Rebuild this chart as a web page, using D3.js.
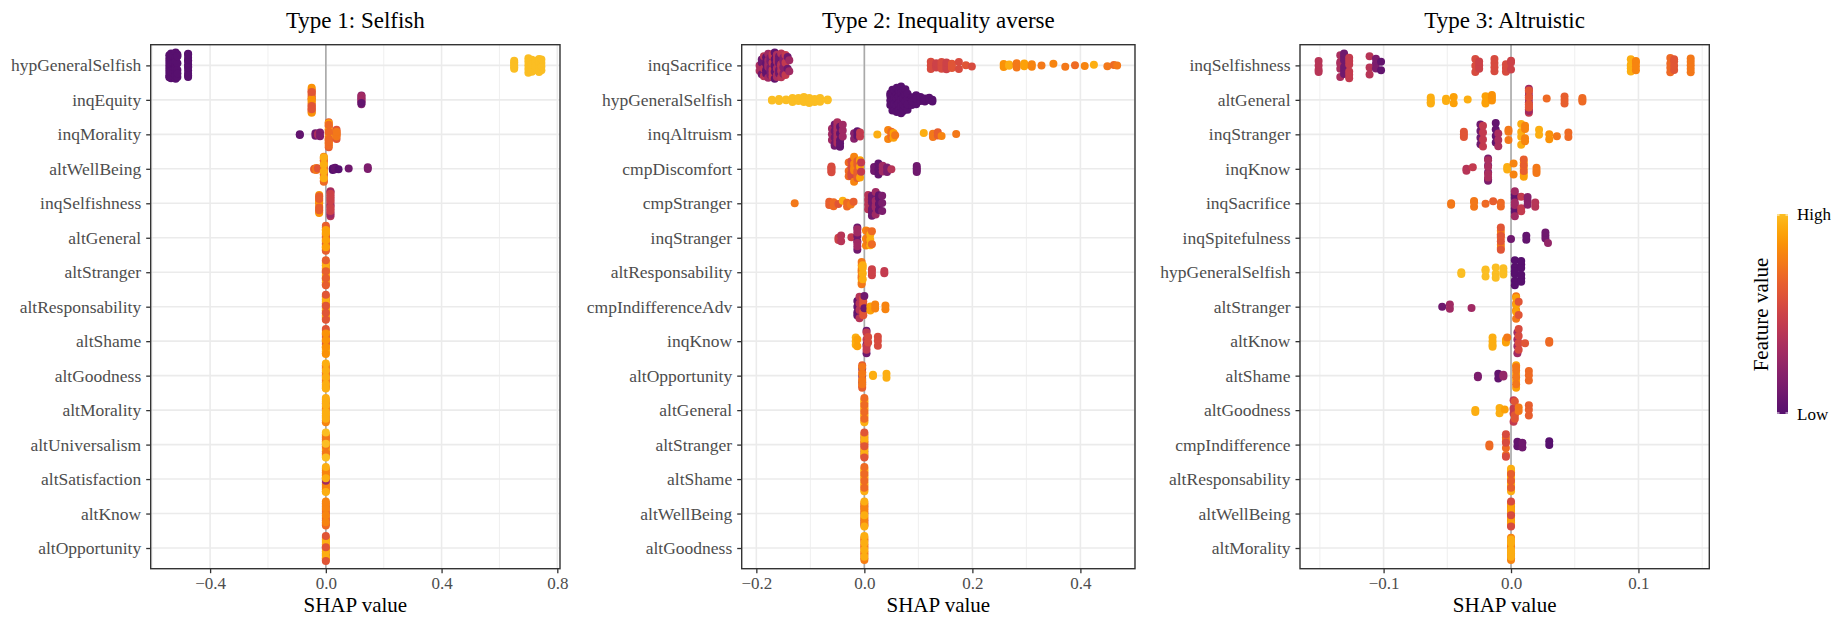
<!DOCTYPE html>
<html>
<head>
<meta charset="utf-8">
<script src="https://cdn.jsdelivr.net/npm/d3@7"></script>
<style>
	body { margin: 0; background: #fff; }
	svg { display: block; font-family: 'Liberation Serif', 'DejaVu Serif', serif; }
</style>
</head>
<body>
<svg id="chart" width="1843" height="618"></svg>
<script>
// Each cluster: [ SHAP value, scaled feature value (0 = low, 1 = high), number of observations ]
const panelTitles = [ 'Type 1: Selfish', 'Type 2: Inequality averse', 'Type 3: Altruistic' ];

const type1Features = [
	'hypGeneralSelfish', 'inqEquity', 'inqMorality', 'altWellBeing', 'inqSelfishness',
	'altGeneral', 'altStranger', 'altResponsability', 'altShame', 'altGoodness',
	'altMorality', 'altUniversalism', 'altSatisfaction', 'altKnow', 'altOpportunity',
];
const type1Shap = [
	[ [ -0.541, 0, 8 ], [ -0.535, 0, 10 ], [ -0.527, 0, 10 ], [ -0.519, 0, 10 ], [ -0.513, 0, 6 ], [ -0.476, 0, 12 ],
		[ 0.651, 1, 6 ], [ 0.700, 1, 5 ], [ 0.712, 1, 6 ], [ 0.725, 1, 5 ], [ 0.737, 1, 5 ], [ 0.745, 1, 4 ] ],
	[ [ -0.049, 0.75, 7 ], [ -0.049, 0.65, 6 ], [ -0.049, 0.85, 4 ], [ -0.049, 0.6, 3 ], [ 0.123, 0.15, 4 ], [ 0.123, 0.3, 3 ], [ 0.123, 0.05, 1 ] ],
	[ [ -0.090, 0.05, 2 ], [ -0.036, 0.1, 2 ], [ -0.027, 0.35, 2 ], [ -0.020, 0.15, 2 ], [ 0.010, 0.75, 6 ], [ 0.010, 0.65, 5 ],
		[ 0.010, 0.9, 4 ], [ 0.010, 0.7, 5 ], [ 0.037, 0.6, 4 ], [ 0.037, 0.75, 3 ] ],
	[ [ -0.040, 0.65, 2 ], [ -0.033, 0.75, 2 ], [ -0.028, 0.6, 1 ], [ -0.007, 0.6, 5 ], [ -0.007, 0.8, 5 ], [ -0.007, 0.7, 4 ],
		[ -0.007, 0.95, 4 ], [ 0.024, 0, 2 ], [ 0.032, 0.05, 2 ], [ 0.044, 0, 1 ], [ 0.079, 0.1, 1 ], [ 0.145, 0.15, 2 ] ],
	[ [ -0.023, 0.75, 5 ], [ -0.023, 0.85, 4 ], [ -0.023, 0.65, 4 ], [ 0.016, 0.4, 6 ], [ 0.016, 0.3, 5 ], [ 0.016, 0.5, 5 ] ],
	[ [ 0, 0.8, 6 ], [ 0, 0.6, 3 ], [ 0, 0.95, 5 ], [ 0, 0.65, 4 ], [ 0, 0.9, 4 ] ],
	[ [ 0, 0.5, 5 ], [ 0, 0.8, 5 ], [ 0, 0.95, 4 ], [ 0, 0.65, 4 ] ],
	[ [ 0, 0.45, 4 ], [ 0, 0.75, 5 ], [ 0, 0.95, 5 ], [ 0, 0.6, 4 ] ],
	[ [ 0, 0.75, 6 ], [ 0, 0.95, 6 ], [ 0, 0.6, 3 ], [ 0, 0.85, 4 ] ],
	[ [ 0, 0.6, 5 ], [ 0, 0.75, 6 ], [ 0, 0.95, 5 ] ],
	[ [ 0, 0.55, 4 ], [ 0, 0.8, 5 ], [ 0, 0.95, 6 ] ],
	[ [ 0, 0.5, 4 ], [ 0, 0.9, 6 ], [ 0, 0.75, 4 ], [ 0, 1, 3 ] ],
	[ [ 0, 0.7, 7 ], [ 0, 0.8, 6 ], [ 0, 0.3, 1 ], [ 0, 0.95, 3 ] ],
	[ [ 0, 0.4, 4 ], [ 0, 0.7, 6 ], [ 0, 0.8, 5 ] ],
	[ [ 0, 0.15, 2 ], [ 0, 0.75, 6 ], [ 0, 0.95, 6 ], [ 0, 0.6, 3 ] ],
];

const type2Features = [
	'inqSacrifice', 'hypGeneralSelfish', 'inqAltruism', 'cmpDiscomfort', 'cmpStranger',
	'inqStranger', 'altResponsability', 'cmpIndifferenceAdv', 'inqKnow', 'altOpportunity',
	'altGeneral', 'altStranger', 'altShame', 'altWellBeing', 'altGoodness',
];
const type2Shap = [
	[ [ -0.194, 0.35, 2 ], [ -0.190, 0.1, 3 ], [ -0.186, 0.4, 3 ], [ -0.182, 0.05, 4 ], [ -0.178, 0.3, 5 ], [ -0.174, 0.15, 5 ],
		[ -0.170, 0.45, 6 ], [ -0.166, 0.05, 6 ], [ -0.162, 0.35, 6 ], [ -0.158, 0.1, 5 ], [ -0.154, 0.4, 5 ], [ -0.150, 0.2, 4 ],
		[ -0.146, 0.45, 3 ], [ -0.142, 0.1, 2 ], [ -0.139, 0.3, 2 ],
		[ 0.123, 0.55, 3 ], [ 0.133, 0.5, 3 ], [ 0.143, 0.55, 4 ], [ 0.152, 0.5, 4 ], [ 0.162, 0.6, 3 ], [ 0.175, 0.55, 2 ],
		[ 0.188, 0.6, 1 ], [ 0.199, 0.55, 1 ],
		[ 0.258, 0.85, 2 ], [ 0.268, 0.95, 2 ], [ 0.282, 0.75, 3 ], [ 0.296, 0.9, 2 ], [ 0.310, 0.8, 2 ], [ 0.328, 0.75, 1 ],
		[ 0.350, 0.8, 1 ], [ 0.372, 0.75, 1 ], [ 0.390, 0.7, 1 ], [ 0.408, 0.8, 1 ], [ 0.425, 0.95, 1 ], [ 0.450, 0.75, 1 ],
		[ 0.462, 0.7, 1 ], [ 0.468, 0.75, 1 ] ],
	[ [ -0.171, 1, 2 ], [ -0.158, 1, 2 ], [ -0.145, 1, 2 ], [ -0.133, 1, 2 ], [ -0.122, 1, 3 ], [ -0.112, 1, 4 ], [ -0.102, 1, 4 ],
		[ -0.092, 1, 3 ], [ -0.082, 1, 2 ], [ -0.068, 1, 2 ],
		[ 0.048, 0, 4 ], [ 0.052, 0, 5 ], [ 0.056, 0, 7 ], [ 0.060, 0, 8 ], [ 0.064, 0, 9 ], [ 0.068, 0, 8 ], [ 0.072, 0, 7 ],
		[ 0.076, 0, 5 ], [ 0.080, 0, 4 ], [ 0.088, 0, 3 ], [ 0.096, 0, 3 ], [ 0.104, 0, 2 ], [ 0.112, 0, 2 ], [ 0.120, 0, 2 ],
		[ 0.126, 0, 2 ] ],
	[ [ -0.060, 0.3, 3 ], [ -0.055, 0.1, 5 ], [ -0.050, 0.35, 7 ], [ -0.045, 0.05, 5 ], [ -0.040, 0.3, 3 ], [ -0.019, 0.2, 2 ],
		[ -0.013, 0.05, 2 ], [ -0.008, 0.45, 2 ], [ 0.024, 0.95, 1 ], [ 0.044, 0.8, 2 ], [ 0.050, 0.7, 3 ], [ 0.054, 0.9, 2 ],
		[ 0.057, 0.75, 1 ], [ 0.110, 0.95, 1 ], [ 0.127, 0.75, 2 ], [ 0.136, 0.65, 2 ], [ 0.143, 0.8, 1 ], [ 0.170, 0.75, 1 ] ],
	[ [ -0.061, 0.55, 5 ], [ -0.029, 0.7, 3 ], [ -0.024, 0.55, 4 ], [ -0.019, 0.8, 5 ], [ -0.013, 0.65, 5 ], [ -0.008, 0.9, 3 ],
		[ -0.006, 0.45, 2 ], [ 0.018, 0.1, 2 ], [ 0.026, 0.05, 3 ], [ 0.034, 0.3, 3 ], [ 0.042, 0.15, 2 ], [ 0.050, 0.4, 1 ],
		[ 0.097, 0.1, 4 ] ],
	[ [ -0.129, 0.75, 1 ], [ -0.065, 0.65, 2 ], [ -0.057, 0.7, 2 ], [ -0.048, 0.6, 1 ], [ -0.040, 0.95, 1 ], [ -0.032, 0.7, 2 ],
		[ -0.025, 0.75, 1 ], [ -0.020, 0.65, 1 ], [ 0.007, 0.4, 4 ], [ 0.014, 0.1, 6 ], [ 0.021, 0.3, 5 ], [ 0.027, 0.05, 4 ],
		[ 0.033, 0.15, 3 ] ],
	[ [ -0.048, 0.5, 2 ], [ -0.043, 0.4, 2 ], [ -0.024, 0.45, 1 ], [ -0.013, 0.1, 4 ], [ -0.013, 0.3, 4 ], [ 0.003, 0.8, 3 ],
		[ 0.007, 0.75, 3 ], [ 0.011, 0.95, 3 ], [ 0.014, 0.7, 2 ] ],
	[ [ -0.005, 0.9, 5 ], [ -0.005, 0.75, 5 ], [ -0.003, 0.95, 4 ], [ 0.014, 0.5, 3 ], [ 0.037, 0.45, 2 ] ],
	[ [ -0.013, 0.05, 4 ], [ -0.009, 0.4, 4 ], [ -0.002, 0.6, 5 ], [ 0, 0.1, 2 ], [ 0.011, 0.9, 2 ], [ 0.020, 0.8, 2 ], [ 0.039, 0.8, 2 ] ],
	[ [ -0.016, 0.95, 3 ], [ -0.013, 0.9, 2 ], [ 0.004, 0.1, 3 ], [ 0.004, 0.45, 4 ], [ 0.007, 0.55, 2 ], [ 0.025, 0.55, 3 ] ],
	[ [ -0.004, 0.1, 3 ], [ -0.004, 0.65, 5 ], [ -0.004, 0.75, 4 ], [ 0.016, 0.95, 2 ], [ 0.041, 0.95, 2 ] ],
	[ [ 0, 0.8, 6 ], [ 0, 0.95, 5 ], [ 0, 0.7, 4 ] ],
	[ [ 0, 0.45, 4 ], [ 0, 0.75, 5 ], [ 0, 0.95, 4 ], [ 0, 0.6, 3 ] ],
	[ [ 0, 0.8, 5 ], [ 0, 0.95, 6 ], [ 0, 0.7, 4 ] ],
	[ [ 0, 0.35, 4 ], [ 0, 0.65, 4 ], [ 0, 0.8, 5 ], [ 0, 0.95, 3 ] ],
	[ [ 0, 0.65, 5 ], [ 0, 0.78, 6 ], [ 0, 0.95, 4 ] ],
];

const type3Features = [
	'inqSelfishness', 'altGeneral', 'inqStranger', 'inqKnow', 'inqSacrifice',
	'inqSpitefulness', 'hypGeneralSelfish', 'altStranger', 'altKnow', 'altShame',
	'altGoodness', 'cmpIndifference', 'altResponsability', 'altWellBeing', 'altMorality',
];
const type3Shap = [
	[ [ -0.151, 0.4, 4 ], [ -0.134, 0.35, 5 ], [ -0.131, 0.1, 6 ], [ -0.127, 0.45, 6 ], [ -0.111, 0.4, 3 ], [ -0.106, 0.15, 3 ],
		[ -0.102, 0.05, 2 ], [ -0.028, 0.55, 3 ], [ -0.025, 0.5, 3 ], [ -0.013, 0.55, 4 ], [ -0.004, 0.55, 3 ], [ 0, 0.5, 3 ],
		[ 0.094, 0.95, 5 ], [ 0.098, 0.8, 4 ], [ 0.125, 0.7, 4 ], [ 0.128, 0.6, 4 ], [ 0.141, 0.75, 5 ] ],
	[ [ -0.063, 0.95, 4 ], [ -0.051, 0.95, 2 ], [ -0.045, 0.9, 2 ], [ -0.034, 0.95, 1 ], [ -0.020, 0.9, 3 ], [ -0.015, 0.85, 3 ],
		[ 0.014, 0.45, 5 ], [ 0.014, 0.3, 4 ], [ 0.014, 0.6, 4 ], [ 0.028, 0.7, 1 ], [ 0.042, 0.65, 3 ], [ 0.056, 0.7, 3 ] ],
	[ [ -0.037, 0.6, 3 ], [ -0.024, 0.1, 4 ], [ -0.022, 0.45, 4 ], [ -0.012, 0.05, 4 ], [ -0.010, 0.35, 3 ], [ -0.002, 0.75, 3 ],
		[ 0.008, 0.95, 4 ], [ 0.011, 0.8, 4 ], [ 0.022, 0.95, 2 ], [ 0.030, 0.85, 2 ], [ 0.036, 0.75, 1 ], [ 0.045, 0.7, 2 ] ],
	[ [ -0.035, 0.4, 2 ], [ -0.030, 0.45, 1 ], [ -0.018, 0.15, 5 ], [ -0.018, 0.35, 4 ], [ -0.003, 0.95, 2 ], [ 0.002, 0.8, 2 ],
		[ 0.010, 0.9, 4 ], [ 0.010, 0.65, 3 ], [ 0.020, 0.75, 3 ] ],
	[ [ -0.047, 0.75, 2 ], [ -0.029, 0.75, 3 ], [ -0.020, 0.7, 1 ], [ -0.014, 0.65, 1 ], [ -0.008, 0.7, 2 ], [ 0.003, 0.05, 4 ],
		[ 0.003, 0.3, 4 ], [ 0.008, 0.45, 3 ], [ 0.013, 0.2, 3 ], [ 0.019, 0.4, 2 ] ],
	[ [ -0.008, 0.75, 5 ], [ -0.008, 0.6, 4 ], [ 0, 0.1, 1 ], [ 0.012, 0.05, 2 ], [ 0.027, 0.1, 3 ], [ 0.029, 0.25, 1 ] ],
	[ [ -0.039, 1, 2 ], [ -0.020, 1, 3 ], [ -0.012, 1, 3 ], [ -0.006, 1, 3 ], [ 0.003, 0, 6 ], [ 0.008, 0, 6 ] ],
	[ [ -0.054, 0.1, 1 ], [ -0.048, 0.3, 2 ], [ -0.031, 0.3, 1 ], [ 0.004, 0.75, 4 ], [ 0.004, 0.9, 3 ], [ 0.006, 0.6, 2 ] ],
	[ [ -0.0145, 0.95, 4 ], [ -0.004, 0.9, 2 ], [ -0.003, 0.75, 1 ], [ 0.005, 0.3, 4 ], [ 0.006, 0.55, 4 ], [ 0.011, 0.6, 1 ],
		[ 0.030, 0.7, 2 ] ],
	[ [ -0.026, 0.15, 2 ], [ -0.010, 0.05, 2 ], [ -0.006, 0.25, 2 ], [ 0.004, 0.9, 4 ], [ 0.004, 0.75, 4 ], [ 0.014, 0.7, 3 ] ],
	[ [ -0.028, 0.95, 2 ], [ -0.009, 0.95, 2 ], [ -0.005, 0.9, 1 ], [ 0.002, 0.45, 4 ], [ 0.003, 0.6, 3 ], [ 0.006, 0.75, 2 ],
		[ 0.014, 0.65, 3 ] ],
	[ [ -0.017, 0.7, 2 ], [ -0.004, 0.7, 4 ], [ -0.004, 0.55, 3 ], [ 0.005, 0.05, 2 ], [ 0.009, 0.1, 2 ], [ 0.030, 0, 2 ] ],
	[ [ 0, 0.8, 6 ], [ 0, 0.95, 5 ], [ 0, 0.65, 3 ] ],
	[ [ 0, 0.35, 3 ], [ 0, 0.7, 5 ], [ 0, 0.9, 5 ], [ 0, 0.55, 3 ] ],
	[ [ 0, 0.55, 4 ], [ 0, 0.8, 5 ], [ 0, 0.95, 5 ] ],
];

const type1Ticks = [ -0.4, 0, 0.4, 0.8 ];
const type2Ticks = [ -0.2, 0, 0.2, 0.4 ];
const type3Ticks = [ -0.1, 0, 0.1 ];
const type1MinorTicks = [ -0.6, -0.2, 0.2, 0.6 ];
const type2MinorTicks = [ -0.1, 0.1, 0.3, 0.5 ];
const type3MinorTicks = [ -0.15, -0.05, 0.05, 0.15 ];

const legendLabels = [ 'High', 'Low' ];

// shapviz-like settings
const beeWidth = 0.4;
const beeAdjust = 0.5;
const pointRadius = 4;

function featureColor( v ) {
	return d3.interpolateInferno( 0.25 + 0.6 * v );
}

function halton( i ) {
	let f = 1;
	let r = 0;
	while ( i > 0 ) {
		f /= 2;
		r += f * ( i % 2 );
		i = Math.floor( i / 2 );
	}
	return r;
}

// R's bw.nrd0
function nrd0( xs ) {
	const sorted = xs.slice().sort( d3.ascending );
	const hi = d3.deviation( xs ) || 0;
	let lo = Math.min( hi, ( d3.quantileSorted( sorted, 0.75 ) - d3.quantileSorted( sorted, 0.25 ) ) / 1.34 );
	if ( ! ( lo > 0 ) ) {
		lo = hi || Math.abs( sorted[ 0 ] ) || 1;
	}
	return 0.9 * lo * Math.pow( xs.length, -0.2 );
}

// density-scaled quasirandom vertical shift, one row at a time
function beeswarm( points ) {
	const xs = points.map( ( p ) => p.shap );
	const n = xs.length;
	if ( n === 1 ) {
		points[ 0 ].shift = 0;
		return;
	}
	const bw = nrd0( xs ) * beeAdjust;
	const dens = xs.map( ( x ) => d3.sum( xs, ( v ) => Math.exp( -0.5 * Math.pow( ( x - v ) / bw, 2 ) ) ) );
	const maxDens = d3.max( dens );
	const order = d3.range( n ).sort( ( a, b ) => xs[ a ] - xs[ b ] || a - b );
	order.forEach( ( idx, rank ) => {
		points[ idx ].shift = 2 * ( halton( rank + 1 ) - 0.5 ) * dens[ idx ] / maxDens;
	} );
}

function expandRows( features, shap ) {
	const all = [];
	features.forEach( ( feature, i ) => {
		const rowPoints = [];
		shap[ i ].forEach( ( [ value, fv, count ] ) => {
			for ( let k = 0; k < count; k++ ) {
				rowPoints.push( { feature, shap: value, fv } );
			}
		} );
		beeswarm( rowPoints );
		all.push( ...rowPoints );
	} );
	return all;
}

const svg = d3.select( '#chart' );
const panelTop = 44.7;
const panelBottom = 568.7;
const gridColor = '#ebebeb';
const darkColor = '#333333';
const axisTextColor = '#4d4d4d';

function drawPanel( opts ) {
	const points = expandRows( opts.features, opts.shap );

	// ggplot-like 5% expansion of the data range
	const [ xMin, xMax ] = d3.extent( points, ( d ) => d.shap );
	const pad = ( xMax - xMin ) * 0.05;
	const xScale = d3.scaleLinear()
		.domain( [ xMin - pad, xMax + pad ] )
		.range( [ opts.left, opts.right ] );

	const yScale = d3.scalePoint()
		.domain( opts.features )
		.range( [ panelTop, panelBottom ] )
		.padding( 0.6 );
	const step = yScale.step();

	const g = svg.append( 'g' );

	// Grid
	g.append( 'g' )
		.selectAll( 'line' )
		.data( opts.minorTicks.filter( ( t ) => xScale( t ) > opts.left && xScale( t ) < opts.right ) )
		.join( 'line' )
		.attr( 'x1', ( d ) => xScale( d ) )
		.attr( 'x2', ( d ) => xScale( d ) )
		.attr( 'y1', panelTop )
		.attr( 'y2', panelBottom )
		.attr( 'stroke', gridColor )
		.attr( 'stroke-width', 0.8 );

	g.append( 'g' )
		.selectAll( 'line' )
		.data( opts.ticks )
		.join( 'line' )
		.attr( 'x1', ( d ) => xScale( d ) )
		.attr( 'x2', ( d ) => xScale( d ) )
		.attr( 'y1', panelTop )
		.attr( 'y2', panelBottom )
		.attr( 'stroke', gridColor )
		.attr( 'stroke-width', 1.6 );

	g.append( 'g' )
		.selectAll( 'line' )
		.data( opts.features )
		.join( 'line' )
		.attr( 'x1', opts.left )
		.attr( 'x2', opts.right )
		.attr( 'y1', ( d ) => yScale( d ) )
		.attr( 'y2', ( d ) => yScale( d ) )
		.attr( 'stroke', gridColor )
		.attr( 'stroke-width', 1.6 );

	// Zero line
	g.append( 'line' )
		.attr( 'x1', xScale( 0 ) )
		.attr( 'x2', xScale( 0 ) )
		.attr( 'y1', panelTop )
		.attr( 'y2', panelBottom )
		.attr( 'stroke', '#a9a9a9' )
		.attr( 'stroke-width', 1.6 );

	// Points
	g.append( 'g' )
		.selectAll( 'circle' )
		.data( points )
		.join( 'circle' )
		.attr( 'cx', ( d ) => xScale( d.shap ) )
		.attr( 'cy', ( d ) => yScale( d.feature ) - d.shift * beeWidth * step )
		.attr( 'r', pointRadius )
		.attr( 'fill', ( d ) => featureColor( d.fv ) );

	// Border
	g.append( 'rect' )
		.attr( 'x', opts.left )
		.attr( 'y', panelTop )
		.attr( 'width', opts.right - opts.left )
		.attr( 'height', panelBottom - panelTop )
		.attr( 'fill', 'none' )
		.attr( 'stroke', darkColor )
		.attr( 'stroke-width', 1.4 );

	// Y axis
	const yAxis = g.append( 'g' )
		.attr( 'transform', `translate(${ opts.left },0)` )
		.call( d3.axisLeft( yScale ).tickSize( 4.5 ).tickPadding( 5 ) );
	yAxis.select( '.domain' ).remove();
	yAxis.selectAll( '.tick line' ).attr( 'stroke', darkColor ).attr( 'stroke-width', 1.3 );
	yAxis.selectAll( '.tick text' )
		.attr( 'fill', axisTextColor )
		.style( 'font-family', 'Liberation Serif' )
		.style( 'font-size', '17.5px' );

	// X axis
	const xAxis = g.append( 'g' )
		.attr( 'transform', `translate(0,${ panelBottom })` )
		.call( d3.axisBottom( xScale ).tickValues( opts.ticks ).tickFormat( d3.format( '.1f' ) ).tickSize( 4.5 ).tickPadding( 4 ) );
	xAxis.select( '.domain' ).remove();
	xAxis.selectAll( '.tick line' ).attr( 'stroke', darkColor ).attr( 'stroke-width', 1.3 );
	xAxis.selectAll( '.tick text' )
		.attr( 'fill', axisTextColor )
		.style( 'font-family', 'Liberation Serif' )
		.style( 'font-size', '17px' );

	const centerX = ( opts.left + opts.right ) / 2;

	g.append( 'text' )
		.attr( 'x', centerX )
		.attr( 'y', 611.5 )
		.attr( 'text-anchor', 'middle' )
		.attr( 'fill', '#000' )
		.style( 'font-size', '21px' )
		.text( 'SHAP value' );

	g.append( 'text' )
		.attr( 'x', centerX )
		.attr( 'y', 28.3 )
		.attr( 'text-anchor', 'middle' )
		.attr( 'fill', '#000' )
		.style( 'font-size', '23px' )
		.text( opts.title );
}

drawPanel( { title: panelTitles[ 0 ], features: type1Features, shap: type1Shap, ticks: type1Ticks, minorTicks: type1MinorTicks, left: 150.7, right: 560 } );
drawPanel( { title: panelTitles[ 1 ], features: type2Features, shap: type2Shap, ticks: type2Ticks, minorTicks: type2MinorTicks, left: 741.7, right: 1135 } );
drawPanel( { title: panelTitles[ 2 ], features: type3Features, shap: type3Shap, ticks: type3Ticks, minorTicks: type3MinorTicks, left: 1300, right: 1709.3 } );

// Colour bar legend
const legend = svg.append( 'g' );
const barX = 1777;
const barW = 11;
const barScale = d3.scaleLinear().domain( [ 0, 1 ] ).range( [ 414, 214 ] );

const gradient = svg.append( 'defs' )
	.append( 'linearGradient' )
	.attr( 'id', 'featureGradient' )
	.attr( 'x1', 0 ).attr( 'y1', 1 )
	.attr( 'x2', 0 ).attr( 'y2', 0 );
gradient.selectAll( 'stop' )
	.data( d3.range( 0, 1.0001, 0.05 ) )
	.join( 'stop' )
	.attr( 'offset', ( d ) => d )
	.attr( 'stop-color', ( d ) => featureColor( d ) );

legend.append( 'rect' )
	.attr( 'x', barX )
	.attr( 'y', barScale( 1 ) )
	.attr( 'width', barW )
	.attr( 'height', barScale( 0 ) - barScale( 1 ) )
	.attr( 'fill', 'url(#featureGradient)' );

[ 1, 0 ].forEach( ( v ) => {
	const y = barScale( v ) + ( v === 1 ? 1 : -1 );
	legend.append( 'line' )
		.attr( 'x1', barX ).attr( 'x2', barX + 2.5 )
		.attr( 'y1', y ).attr( 'y2', y )
		.attr( 'stroke', '#fff' ).attr( 'stroke-width', 1 );
	legend.append( 'line' )
		.attr( 'x1', barX + barW - 2.5 ).attr( 'x2', barX + barW )
		.attr( 'y1', y ).attr( 'y2', y )
		.attr( 'stroke', '#fff' ).attr( 'stroke-width', 1 );
} );

legend.selectAll( 'text.level' )
	.data( [ 1, 0 ] )
	.join( 'text' )
	.attr( 'class', 'level' )
	.attr( 'x', 1797 )
	.attr( 'y', ( d ) => barScale( d ) )
	.attr( 'dy', '0.35em' )
	.attr( 'fill', '#000' )
	.style( 'font-size', '17px' )
	.text( ( d, i ) => legendLabels[ i ] );

legend.append( 'text' )
	.attr( 'transform', 'translate(1768,314.5) rotate(-90)' )
	.attr( 'text-anchor', 'middle' )
	.attr( 'fill', '#000' )
	.style( 'font-size', '21px' )
	.text( 'Feature value' );
</script>
</body>
</html>
